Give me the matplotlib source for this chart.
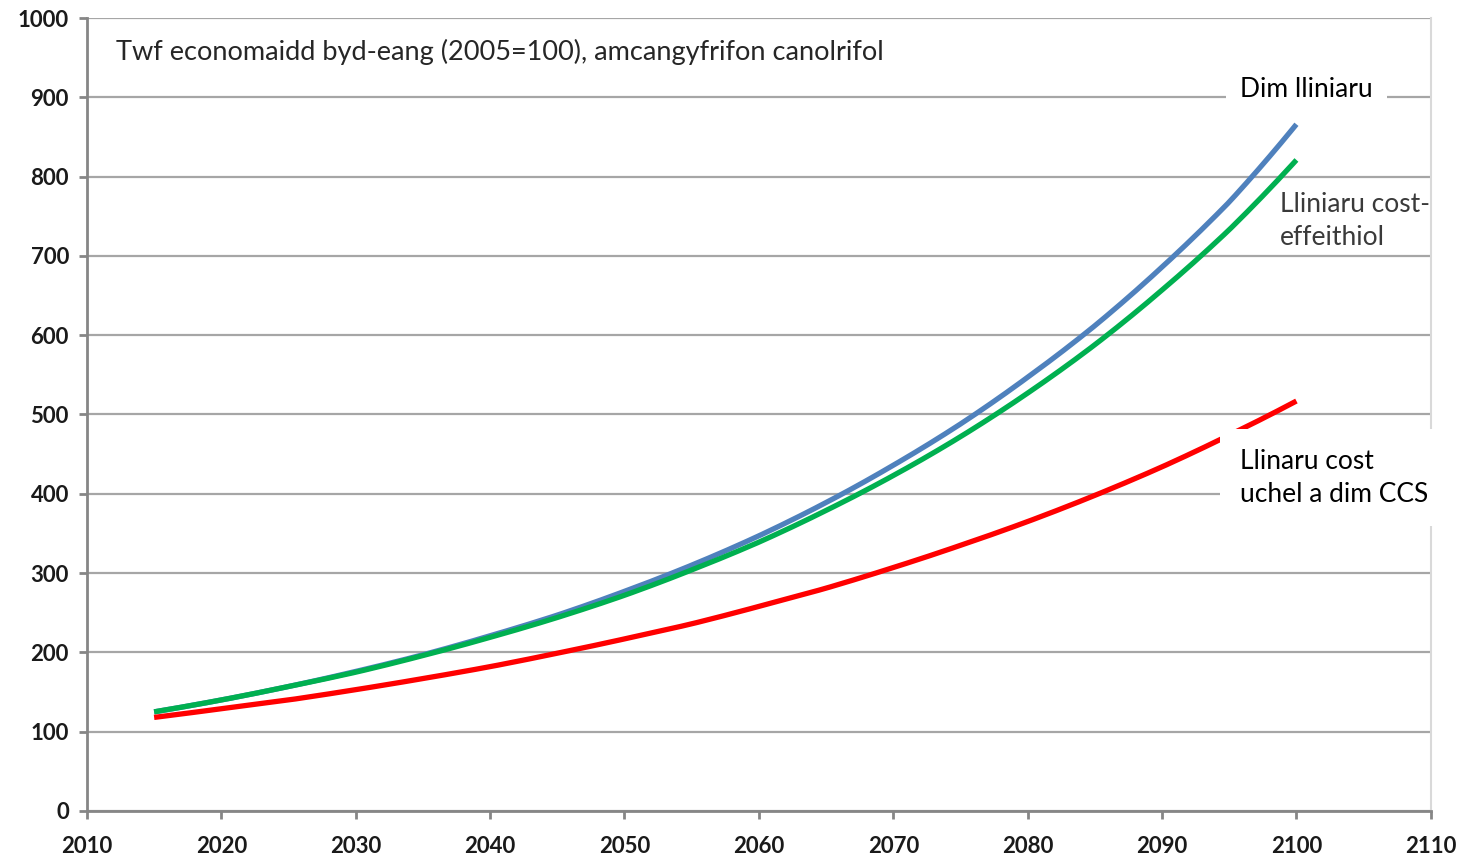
import numpy as np
import matplotlib
matplotlib.use("Agg")
import matplotlib.pyplot as plt

plt.rcParams['font.family'] = ['Lato', 'DejaVu Sans']

# values (index, 2005 = 100)
years = [2015, 2020, 2025, 2030, 2035, 2040, 2045, 2050, 2055, 2060,
         2065, 2070, 2075, 2080, 2085, 2090, 2095, 2100]
dim_lliniaru = [125, 140, 157, 176, 197, 221, 247, 277, 310, 347,
                389, 436, 488, 547, 612, 686, 768, 866]
cost_effeithiol = [125, 140, 157, 175, 196, 219, 244, 272, 304, 339,
                   379, 423, 472, 527, 588, 657, 733, 821]
cost_uchel = [118, 129, 140, 153, 167, 182, 199, 217, 236, 258,
              281, 307, 335, 365, 398, 434, 474, 517]

title = "Twf economaidd byd-eang (2005=100), amcangyfrifon canolrifol"
x_ticks = list(range(2010, 2111, 10))
y_ticks = list(range(0, 1001, 100))

fig = plt.figure(figsize=(14.66, 8.58), dpi=100)
ax = fig.add_axes([0.0593, 0.0548, 0.9167, 0.9242])

# smooth curves through the read points
yy = np.linspace(years[0], years[-1], 300)
for vals, col in [(dim_lliniaru, '#4f81bd'), (cost_effeithiol, '#00b050'),
                  (cost_uchel, '#ff0000')]:
    sm = np.exp(np.interp(yy, years, np.log(vals)))
    ax.plot(yy, sm, color=col, lw=3.8, solid_capstyle='butt', zorder=3)

ax.set_xlim(2010, 2110)
ax.set_ylim(0, 1000)
ax.set_xticks(x_ticks)
ax.set_yticks(y_ticks)
ax.grid(axis='y', color='#a6a6a6', lw=1.6)
ax.set_axisbelow(True)
for s in ['left', 'bottom']:
    ax.spines[s].set_color('#868686')
    ax.spines[s].set_linewidth(2)
ax.spines['top'].set_visible(False)
ax.spines['right'].set_color('#d9d9d9')
ax.spines['right'].set_linewidth(1.5)
ax.tick_params(axis='both', colors='#868686', width=2, length=6,
               labelcolor='#1a1a1a', labelsize=16)
for lab in ax.get_xticklabels() + ax.get_yticklabels():
    lab.set_fontweight('bold')
ax.tick_params(axis='x', pad=12)
ax.tick_params(axis='y', pad=7)

ax.text(2012.2, 957, title, fontsize=19.5, color='#262626', va='center', ha='left')

box = dict(facecolor='white', edgecolor='none', pad=10)
ax.text(2095.8, 910, "Dim lliniaru", fontsize=19, color='black',
        va='center', ha='left', bbox=box, zorder=5)
ax.text(2098.8, 744, "Lliniaru cost-\neffeithiol", fontsize=19, color='#3a3a3a',
        va='center', ha='left', linespacing=1.4, zorder=5, clip_on=False)
ax.text(2095.8, 420, "Llinaru cost\nuchel a dim CCS", fontsize=19, color='black',
        va='center', ha='left', linespacing=1.4,
        bbox=dict(facecolor='white', edgecolor='none', pad=14), zorder=5)

fig.savefig("out.png", dpi=100)
